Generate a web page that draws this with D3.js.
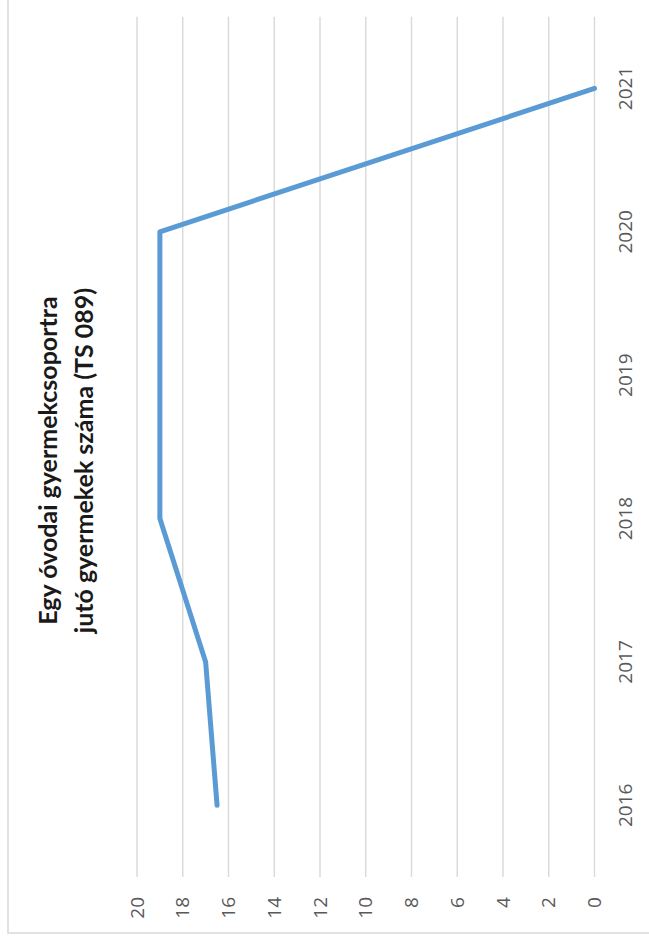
<!DOCTYPE html>
<html>
<head>
<meta charset="utf-8">
<script src="https://cdn.jsdelivr.net/npm/d3@7"></script>
<style>
  html, body { margin: 0; padding: 0; background: #fff; }
  svg { display: block; }
</style>
</head>
<body>
<svg id="chart"></svg>
<script>
// chart data
const years = ["2016", "2017", "2018", "2019", "2020", "2021"];
const values = [16.5, 17, 19, 19, 19, 0];
const valueTicks = [0, 2, 4, 6, 8, 10, 12, 14, 16, 18, 20];
const titleLines = ["Egy óvodai gyermekcsoportra", "jutó gyermekek száma (TS 089)"];

const W = 649;
const H = 952;

const svg = d3.select("#chart").attr("width", W).attr("height", H);

// the whole chart is turned a quarter turn to the left,
// so draw it upright inside a rotated group
const g = svg.append("g").attr("transform", `translate(0, ${H}) rotate(-90)`);

const x = d3.scaleBand().domain(years).range([75, 935.3]);
const y = d3.scaleLinear().domain([0, 20]).range([594.5, 137]);

// frame (only two of its edges fall inside the picture)
g.append("rect")
  .attr("x", 19)
  .attr("y", 8)
  .attr("width", 1200)
  .attr("height", 900)
  .attr("fill", "none")
  .attr("stroke", "#d9d9d9")
  .attr("stroke-width", 1.5);

// gridlines
g.append("g")
  .selectAll("line")
  .data(valueTicks)
  .join("line")
  .attr("x1", x.range()[0])
  .attr("x2", x.range()[1])
  .attr("y1", (d) => y(d))
  .attr("y2", (d) => y(d))
  .attr("stroke", "#d9d9d9")
  .attr("stroke-width", 1.4);

// value axis labels
const yAxis = d3.axisLeft(y).tickValues(valueTicks).tickSize(0).tickPadding(0);
g.append("g")
  .attr("transform", "translate(55, 0)")
  .call(yAxis)
  .call((s) => s.select(".domain").remove())
  .selectAll("text")
  .attr("font-family", "'Open Sans', sans-serif")
  .attr("font-size", 19)
  .attr("fill", "#595959");

// category axis labels
const xAxis = d3.axisBottom(x).tickSize(0).tickPadding(0);
g.append("g")
  .attr("transform", `translate(0, ${y(0)})`)
  .call(xAxis)
  .call((s) => s.select(".domain").remove())
  .selectAll("text")
  .attr("dy", null)
  .attr("y", 32)
  .attr("dominant-baseline", "middle")
  .attr("font-family", "'Open Sans', sans-serif")
  .attr("font-size", 19)
  .attr("fill", "#595959");

// series line
const line = d3
  .line()
  .x((d, i) => x(years[i]) + x.bandwidth() / 2)
  .y((d) => y(d));

g.append("path")
  .datum(values)
  .attr("d", line)
  .attr("fill", "none")
  .attr("stroke", "#5b9bd5")
  .attr("stroke-width", 5)
  .attr("stroke-linejoin", "round")
  .attr("stroke-linecap", "round");

// title
g.append("text")
  .attr("x", 491.5)
  .attr("text-anchor", "middle")
  .attr("font-family", "Lato, sans-serif")
  .attr("font-weight", "bold")
  .attr("font-size", 25)
  .attr("fill", "#1a1a1a")
  .selectAll("tspan")
  .data(titleLines)
  .join("tspan")
  .attr("x", 491.5)
  .attr("y", (d, i) => 57 + i * 36)
  .text((d) => d);
</script>
</body>
</html>
